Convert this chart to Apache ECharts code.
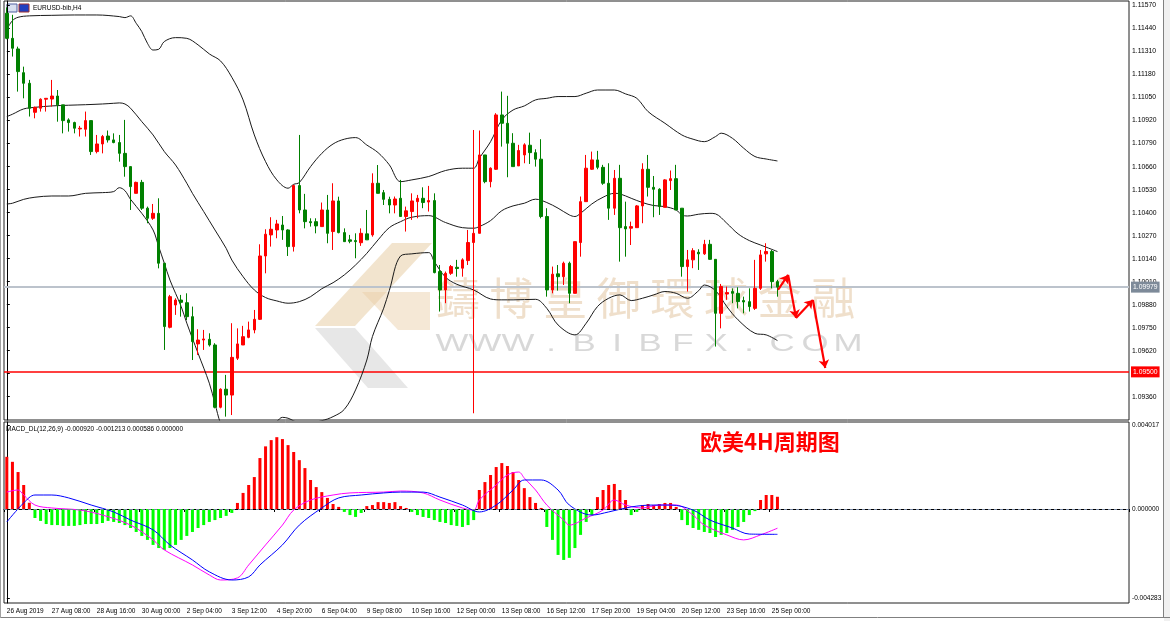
<!DOCTYPE html>
<html><head><meta charset="utf-8">
<script src="https://cdn.jsdelivr.net/npm/echarts@6/dist/echarts.min.js"></script>
<style>html,body{margin:0;padding:0;background:#fff;}#c{width:1170px;height:621px;}</style>
</head><body><div id="c"></div>
<script>
// ---------------- DATA ----------------
const symbolTitle = 'EURUSD-bib,H4';
const macdTitle = 'MACD_DL(12,26,9) -0.000920 -0.001213 0.000586 0.000000';
const noteText = '欧美4H周期图';
const watermarkCN = '鑄博皇御環球金融';
const watermarkEN = 'WWW.BIBFX.COM';
const timeLabels = ['26 Aug 2019','27 Aug 08:00','28 Aug 16:00','30 Aug 00:00','2 Sep 04:00','3 Sep 12:00','4 Sep 20:00','6 Sep 04:00','9 Sep 08:00','10 Sep 16:00','12 Sep 00:00','13 Sep 08:00','16 Sep 12:00','17 Sep 20:00','19 Sep 04:00','20 Sep 12:00','23 Sep 16:00','25 Sep 00:00'];
const priceTicks = [1.11570,1.11440,1.11310,1.11180,1.11050,1.10920,1.10790,1.10660,1.10530,1.10400,1.10270,1.10140,1.10010,1.09880,1.09750,1.09620,1.09490,1.09360];
const macdTicks = [0.004017,0.000000,-0.004283];
const priceMin = 1.09228, priceMax = 1.11596;
const macdMin = -0.004502, macdMax = 0.004167;
const bidPrice = 1.09979;
const supportLevel = 1.09500;

const opens = [1.11527,1.11385,1.11325,1.11191,1.11131,1.10967,1.10990,1.11041,1.11042,1.11059,
1.11009,1.10924,1.10909,1.10873,1.10871,1.10920,1.10745,1.10788,1.10833,1.10811,
1.10796,1.10735,1.10660,1.10509,1.10571,1.10425,1.10368,1.10396,1.10114,1.09752,
1.09878,1.09906,1.09891,1.09812,1.09658,1.09680,1.09684,1.09652,1.09300,1.09402,
1.09369,1.09577,1.09652,1.09695,1.09737,1.09797,1.10155,1.10274,1.10302,1.10330,
1.10302,1.10208,1.10553,1.10415,1.10349,1.10349,1.10321,1.10415,1.10293,1.10466,
1.10287,1.10246,1.10242,1.10230,1.10280,1.10274,1.10566,1.10513,1.10475,1.10443,
1.10481,1.10378,1.10406,1.10462,1.10481,1.10460,1.10468,1.10067,1.09963,1.10057,
1.10091,1.10086,1.10129,1.10231,1.10283,1.10726,1.10575,1.10645,1.10952,1.10905,
1.10792,1.10664,1.10726,1.10781,1.10739,1.10702,1.10378,1.09963,1.10054,1.10038,
1.10114,1.09944,1.10231,1.10462,1.10645,1.10698,1.10656,1.10566,1.10425,1.10594,
1.10321,1.10312,1.10315,1.10438,1.10645,1.10543,1.10532,1.10430,1.10581,1.10592,
1.10425,1.10095,1.10133,1.10176,1.10167,1.10221,1.10136,1.09831,1.09940,1.09954,
1.09944,1.09903,1.09897,1.09859,1.09972,1.10167,1.10180,1.10010];
const closes = [1.11385,1.11329,1.11197,1.11131,1.10990,1.10995,1.11041,1.11046,1.11059,1.11009,
1.10920,1.10909,1.10877,1.10877,1.10920,1.10745,1.10788,1.10830,1.10811,1.10796,
1.10735,1.10660,1.10547,1.10571,1.10425,1.10368,1.10396,1.10114,1.09756,1.09925,
1.09906,1.09893,1.09812,1.09671,1.09680,1.09686,1.09652,1.09300,1.09402,1.09369,
1.09582,1.09658,1.09699,1.09737,1.09797,1.10155,1.10278,1.10306,1.10336,1.10302,
1.10208,1.10553,1.10415,1.10349,1.10343,1.10325,1.10415,1.10283,1.10466,1.10287,
1.10236,1.10238,1.10236,1.10283,1.10246,1.10566,1.10509,1.10475,1.10443,1.10477,
1.10378,1.10410,1.10466,1.10481,1.10457,1.10468,1.10061,1.09963,1.10057,1.10095,
1.10084,1.10133,1.10231,1.10283,1.10726,1.10575,1.10651,1.10952,1.10905,1.10792,
1.10660,1.10751,1.10783,1.10739,1.10702,1.10378,1.09963,1.10052,1.10038,1.10114,
1.09944,1.10236,1.10462,1.10651,1.10698,1.10656,1.10566,1.10425,1.10594,1.10315,
1.10308,1.10321,1.10438,1.10645,1.10543,1.10532,1.10434,1.10585,1.10592,1.10415,
1.10095,1.10133,1.10185,1.10167,1.10221,1.10136,1.09831,1.09982,1.09948,1.09944,
1.09897,1.09895,1.09869,1.09972,1.10161,1.10180,1.10010,1.09979];
const highs = [1.11560,1.11518,1.11338,1.11225,1.11150,1.10999,1.11046,1.11046,1.11150,1.11093,
1.11009,1.10933,1.10914,1.10890,1.10971,1.10920,1.10839,1.10839,1.10864,1.10848,
1.10839,1.10924,1.10660,1.10575,1.10585,1.10434,1.10449,1.10481,1.10114,1.09935,
1.09916,1.09935,1.09944,1.09869,1.09741,1.09737,1.09718,1.09662,1.09407,1.09483,
1.09775,1.09746,1.09760,1.09784,1.09850,1.10221,1.10306,1.10374,1.10359,1.10381,
1.10306,1.10557,1.10839,1.10506,1.10368,1.10368,1.10457,1.10500,1.10566,1.10490,
1.10311,1.10274,1.10283,1.10311,1.10415,1.10622,1.10669,1.10528,1.10490,1.10491,
1.10585,1.10434,1.10509,1.10500,1.10543,1.10551,1.10509,1.10104,1.10067,1.10104,
1.10133,1.10142,1.10302,1.10867,1.10864,1.10726,1.10656,1.10962,1.11084,1.11060,
1.10849,1.10783,1.10792,1.10852,1.10758,1.10815,1.10425,1.10095,1.10104,1.10123,
1.10123,1.10236,1.10491,1.10726,1.10745,1.10749,1.10670,1.10679,1.10641,1.10670,
1.10462,1.10349,1.10443,1.10679,1.10726,1.10607,1.10538,1.10589,1.10638,1.10670,
1.10425,1.10189,1.10199,1.10193,1.10246,1.10246,1.10136,1.09997,1.09982,1.09972,
1.09978,1.09925,1.09972,1.10133,1.10189,1.10227,1.10189,1.10020];
const lows = [1.11380,1.11282,1.11084,1.11046,1.10943,1.10933,1.10971,1.10971,1.10999,1.10914,
1.10848,1.10858,1.10848,1.10830,1.10830,1.10726,1.10735,1.10735,1.10796,1.10792,
1.10688,1.10603,1.10415,1.10509,1.10415,1.10340,1.10359,1.10085,1.09624,1.09746,
1.09822,1.09812,1.09793,1.09567,1.09596,1.09624,1.09643,1.09294,1.09294,1.09247,
1.09256,1.09567,1.09652,1.09690,1.09718,1.09793,1.10057,1.10208,1.10255,1.10246,
1.10155,1.10180,1.10396,1.10311,1.10321,1.10283,1.10321,1.10227,1.10189,1.10283,
1.10236,1.10227,1.10142,1.10212,1.10246,1.10264,1.10509,1.10443,1.10396,1.10396,
1.10378,1.10293,1.10359,1.10368,1.10425,1.10406,1.10057,1.09841,1.09888,1.10048,
1.10038,1.10038,1.10104,1.09266,1.10283,1.10566,1.10543,1.10641,1.10773,1.10600,
1.10660,1.10664,1.10679,1.10675,1.10660,1.10368,1.09925,1.09944,1.09959,1.09991,
1.09888,1.09944,1.10151,1.10462,1.10641,1.10645,1.10557,1.10359,1.10387,1.10123,
1.10151,1.10217,1.10315,1.10340,1.10491,1.10374,1.10387,1.10430,1.10528,1.10415,
1.10038,1.09954,1.10086,1.10076,1.10161,1.10133,1.09643,1.09746,1.09907,1.09888,
1.09859,1.09831,1.09841,1.09850,1.09963,1.10123,1.09972,1.09925];

// Bollinger bands: [bar index, price]
const bbUpper = [[0,1.11436],[1,1.11485],[2,1.11504],[4,1.11512],[8,1.11515],[12,1.11517],[16,1.11517],[20,1.11508],[21,1.11502],[22,1.11512],[23,1.11470],[24,1.11423],[25,1.11357],[26,1.11319],[27,1.11323],[28,1.11367],[30,1.11389],[32,1.11385],[34,1.11348],[36,1.11297],[38,1.11257],[40,1.11165],[42,1.11037],[44,1.10839],[46,1.10688],[48,1.10585],[50,1.10538],[51,1.10560],[52,1.10570],[54,1.10660],[56,1.10735],[58,1.10788],[60,1.10815],[62,1.10824],[64,1.10782],[66,1.10739],[68,1.10670],[70,1.10575],[72,1.10585],[75,1.10604],[78,1.10638],[81,1.10651],[83,1.10651],[84,1.10707],[86,1.10801],[88,1.10924],[90,1.10980],[92,1.11003],[94,1.11037],[96,1.11046],[98,1.11056],[101,1.11056],[103,1.11075],[105,1.11093],[108,1.11093],[110,1.11071],[112,1.11046],[114,1.10971],[117,1.10905],[120,1.10839],[122,1.10815],[124,1.10801],[126,1.10830],[127,1.10849],[129,1.10820],[131,1.10764],[133,1.10717],[135,1.10703],[137,1.10692]];
const bbMiddle = [[0,1.10943],[1,1.10956],[3,1.10986],[5,1.10995],[8,1.11003],[11,1.11007],[14,1.11010],[17,1.11014],[19,1.11018],[20,1.11020],[21,1.11014],[22,1.10990],[24,1.10914],[26,1.10839],[28,1.10745],[30,1.10669],[32,1.10566],[33,1.10509],[35,1.10406],[37,1.10302],[39,1.10198],[40,1.10132],[42,1.10038],[44,1.09963],[46,1.09920],[48,1.09901],[50,1.09888],[52,1.09897],[54,1.09925],[56,1.09970],[58,1.10004],[60,1.10048],[62,1.10104],[64,1.10170],[66,1.10246],[68,1.10315],[70,1.10349],[72,1.10374],[75,1.10383],[78,1.10344],[81,1.10315],[83,1.10312],[84,1.10321],[86,1.10355],[88,1.10411],[90,1.10438],[92,1.10453],[94,1.10476],[96,1.10457],[98,1.10425],[100,1.10387],[101,1.10378],[102,1.10396],[104,1.10449],[106,1.10487],[108,1.10509],[109,1.10506],[111,1.10481],[113,1.10457],[115,1.10440],[117,1.10434],[119,1.10415],[120,1.10387],[121,1.10381],[123,1.10391],[125,1.10396],[126,1.10393],[128,1.10340],[130,1.10280],[132,1.10242],[134,1.10217],[137,1.10180]];
const bbLower = [[0,1.10449],[1,1.10453],[3,1.10475],[5,1.10487],[8,1.10494],[11,1.10494],[14,1.10509],[17,1.10513],[19,1.10519],[20,1.10541],[21,1.10524],[22,1.10475],[24,1.10396],[26,1.10302],[27,1.10208],[28,1.10114],[29,1.10019],[31,1.09869],[32,1.09775],[34,1.09605],[36,1.09436],[37,1.09322],[38,1.09209],[40,1.09077],[42,1.09049],[44,1.09087],[46,1.09153],[48,1.09219],[49,1.09243],[50,1.09238],[52,1.09213],[54,1.09213],[56,1.09224],[58,1.09247],[60,1.09288],[62,1.09398],[64,1.09567],[65,1.09700],[67,1.09860],[68,1.09960],[70,1.10155],[72,1.10167],[75,1.10174],[76,1.10123],[78,1.10035],[80,1.09995],[83,1.09963],[86,1.09912],[88,1.09907],[90,1.09907],[94,1.09910],[96,1.09859],[98,1.09765],[101,1.09709],[103,1.09775],[105,1.09869],[107,1.09916],[109,1.09935],[111,1.09903],[113,1.09916],[115,1.09935],[117,1.09954],[119,1.09944],[121,1.09916],[123,1.09959],[124,1.09991],[126,1.09959],[128,1.09869],[130,1.09794],[133,1.09718],[135,1.09709],[137,1.09677]];

// MACD histogram (one per bar)
const macdHist = [0.00250,0.00226,0.00177,0.00115,0.00030,-0.00043,-0.00057,-0.00072,-0.00077,-0.00077,
-0.00081,-0.00081,-0.00081,-0.00077,-0.00072,-0.00072,-0.00072,-0.00067,-0.00057,-0.00062,
-0.00067,-0.00077,-0.00091,-0.00110,-0.00129,-0.00148,-0.00172,-0.00187,-0.00196,-0.00187,
-0.00172,-0.00148,-0.00129,-0.00110,-0.00091,-0.00077,-0.00062,-0.00053,-0.00043,-0.00033,
-0.00019,0.00029,0.00077,0.00115,0.00153,0.00244,0.00300,0.00330,0.00344,0.00335,
0.00306,0.00273,0.00234,0.00196,0.00139,0.00105,0.00081,0.00053,0.00024,0.00010,
-0.00014,-0.00029,-0.00038,-0.00019,0.00014,0.00019,0.00033,0.00033,0.00029,0.00033,
0.00014,0.00005,-0.00014,-0.00029,-0.00038,-0.00043,-0.00053,-0.00062,-0.00067,-0.00077,
-0.00081,-0.00086,-0.00077,-0.00053,0.00091,0.00129,0.00163,0.00201,0.00220,0.00206,
0.00177,0.00139,0.00100,0.00057,0.00029,0.00005,-0.00086,-0.00148,-0.00220,-0.00244,
-0.00234,-0.00187,-0.00124,-0.00062,-0.00029,0.00057,0.00091,0.00115,0.00120,0.00091,
0.00043,-0.00029,-0.00014,0.00019,0.00024,0.00019,0.00024,0.00029,0.00029,0.00010,
-0.00053,-0.00077,-0.00091,-0.00100,-0.00110,-0.00115,-0.00134,-0.00124,-0.00115,-0.00100,
-0.00086,-0.00062,-0.00029,-0.00010,0.00043,0.00067,0.00067,0.000586];
// MACD main line (magenta) and signal (blue): [bar index, value]
const macdLine = [[0,0.00081],[2,0.00091],[3,0.00067],[5,0.00019],[8,0.00005],[13,-0.00005],[17,-0.00029],[22,-0.00077],[26,-0.00148],[28,-0.00196],[33,-0.00268],[36,-0.00316],[38,-0.00340],[41,-0.00330],[43,-0.00268],[46,-0.00172],[49,-0.00077],[51,-0.00005],[54,0.00043],[58,0.00067],[61,0.00077],[67,0.00081],[70,0.00086],[74,0.00077],[77,0.00043],[81,0.00005],[83,-0.00005],[84,0.00043],[87,0.00115],[89,0.00163],[91,0.00177],[92,0.00148],[94,0.00091],[96,0.00019],[99,-0.00053],[100,-0.00077],[103,-0.00043],[106,-0.00005],[108,0.00043],[110,0.00019],[113,0.00005],[116,0.00019],[119,0.00019],[122,-0.00029],[124,-0.00077],[128,-0.00124],[131,-0.00148],[134,-0.00124],[137,-0.00092]];
const signalLine = [[0,-0.00062],[3,0.00029],[5,0.00067],[8,0.00067],[11,0.00053],[15,0.00019],[19,-0.00014],[22,-0.00053],[26,-0.00100],[29,-0.00172],[33,-0.00244],[36,-0.00301],[40,-0.00340],[43,-0.00325],[45,-0.00268],[49,-0.00172],[52,-0.00077],[56,0.00005],[59,0.00053],[63,0.00067],[67,0.00077],[70,0.00081],[74,0.00081],[77,0.00057],[81,0.00019],[84,-0.00014],[87,0.00019],[90,0.00091],[92,0.00139],[95,0.00139],[98,0.00091],[100,0.00019],[104,-0.00029],[107,-0.00014],[111,0.00010],[115,0.00019],[118,0.00019],[122,-0.00005],[125,-0.00053],[129,-0.00091],[132,-0.00120],[137,-0.001213]];
// hand-drawn forecast arrow vertices: [bar position, price]
const arrowPath = [[137.1,1.09963],[138.9,1.10048],[140.3,1.09805],[143.3,1.09906],[145.5,1.09522]];

// ---------------- CHART ----------------
const N_SLOTS = 200;
const slots = Array.from({length: N_SLOTS}, (_, i) => String(i));
const candleData = opens.map((o, i) => [o, closes[i], lows[i], highs[i]]);
const isLabelSlot = (i) => i % 8 === 0 && i / 8 < timeLabels.length;
const FONT = 'Liberation Sans';

const chart = echarts.init(document.getElementById('c'), null, {renderer: 'canvas'});

const wmCN = watermarkCN.split('').map((ch, k) => ({
  type: 'text', x: 458 + k * 53.6, y: 298, z: -5,
  style: {text: ch, font: '44px "Noto Sans CJK TC"', fill: 'rgba(226,196,160,0.55)', align: 'center', verticalAlign: 'middle'}
}));
const wmEN = watermarkEN.split('').map((ch, k) => ({
  type: 'text', x: 452 + k * 33, y: 344, z: -5, scaleX: 1.45,
  style: {text: ch, font: '24px "Liberation Sans"', fill: 'rgba(200,200,200,0.7)', align: 'center', verticalAlign: 'middle'}
}));

const option = {
  animation: false,
  backgroundColor: '#ffffff',
  grid: [
    {left: 4, top: 1, width: 1125, height: 419, show: true, borderColor: '#202020', borderWidth: 1},
    {left: 4, top: 422, width: 1125, height: 181, show: true, borderColor: '#202020', borderWidth: 1}
  ],
  xAxis: [
    {type: 'category', gridIndex: 0, data: slots, boundaryGap: true, axisLine: {show: false}, axisTick: {show: false}, axisLabel: {show: false}},
    {type: 'category', gridIndex: 1, data: slots, boundaryGap: true,
      axisLine: {show: true, lineStyle: {color: '#000', width: 1}},
      axisTick: {show: true, interval: (i) => isLabelSlot(i), length: 3, lineStyle: {color: '#000'}},
      axisLabel: {interval: (i) => isLabelSlot(i), formatter: (v) => timeLabels[Number(v) / 8] || '', align: 'left', fontSize: 6.5, fontFamily: FONT, color: '#000', margin: 5}},
    {type: 'value', gridIndex: 0, min: -0.5, max: N_SLOTS - 0.5, show: false},
    {type: 'value', gridIndex: 1, min: -0.5, max: N_SLOTS - 0.5, show: false}
  ],
  yAxis: [
    {type: 'value', gridIndex: 0, position: 'right', min: priceMin, max: priceMax, splitLine: {show: false},
      axisLine: {show: true, lineStyle: {color: '#000'}},
      axisTick: {show: true, customValues: priceTicks, length: 3, lineStyle: {color: '#000'}},
      axisLabel: {customValues: priceTicks, formatter: (v) => v.toFixed(5), fontSize: 6.8, fontFamily: FONT, color: '#000', margin: 3}},
    {type: 'value', gridIndex: 1, position: 'right', min: macdMin, max: macdMax, splitLine: {show: false},
      axisLine: {show: true, lineStyle: {color: '#000'}},
      axisTick: {show: true, customValues: macdTicks, length: 3, lineStyle: {color: '#000'}},
      axisLabel: {customValues: macdTicks, formatter: (v) => v.toFixed(6), fontSize: 6.5, fontFamily: FONT, color: '#000', margin: 3}}
  ],
  series: [
    {type: 'candlestick', xAxisIndex: 0, yAxisIndex: 0, data: candleData, barWidth: 3, z: 3,
      itemStyle: {color: '#ff0000', color0: '#008000', borderColor: '#ff0000', borderColor0: '#008000', borderWidth: 1},
      markLine: {silent: true, symbol: 'none', z: 2, animation: false, precision: 5,
        data: [
          {yAxis: bidPrice, lineStyle: {color: '#bcc3cc', width: 2, type: 'solid'},
            label: {position: 'end', formatter: () => bidPrice.toFixed(5), color: '#fff', backgroundColor: '#7d8a99', padding: [2, 2], fontSize: 6.8, fontFamily: FONT, distance: 2}},
          {yAxis: supportLevel, lineStyle: {color: '#ff0000', width: 1.5, type: 'solid'},
            label: {position: 'end', formatter: () => supportLevel.toFixed(5), color: '#fff', backgroundColor: '#ff0000', padding: [2, 2], fontSize: 6.8, fontFamily: FONT, distance: 2}}
        ]}},
    {type: 'line', name: 'bbUpper', xAxisIndex: 2, yAxisIndex: 0, data: bbUpper, showSymbol: false, smooth: 0.35, lineStyle: {color: '#1a1a1a', width: 1}, z: 2},
    {type: 'line', name: 'bbMiddle', xAxisIndex: 2, yAxisIndex: 0, data: bbMiddle, showSymbol: false, smooth: 0.35, lineStyle: {color: '#1a1a1a', width: 1}, z: 2},
    {type: 'line', name: 'bbLower', xAxisIndex: 2, yAxisIndex: 0, data: bbLower, showSymbol: false, smooth: 0.35, lineStyle: {color: '#1a1a1a', width: 1}, z: 2},
    {type: 'lines', coordinateSystem: 'cartesian2d', xAxisIndex: 2, yAxisIndex: 0, z: 5,
      data: arrowPath.slice(1).map((p, k) => ({coords: [arrowPath[k], p]})),
      symbol: ['none', 'arrow'], symbolSize: 8, lineStyle: {color: '#ff0000', width: 2.2, opacity: 1}},
    {type: 'bar', xAxisIndex: 1, yAxisIndex: 1, data: macdHist, barWidth: 3,
      itemStyle: {color: (p) => p.value >= 0 ? '#ff0000' : '#00ff00'},
      markLine: {silent: true, symbol: 'none', precision: 6, data: [{yAxis: 0}], label: {show: false}, lineStyle: {color: '#7585a0', width: 1, type: [3, 3]}}},
    {type: 'line', name: 'macd', xAxisIndex: 3, yAxisIndex: 1, data: macdLine, showSymbol: false, smooth: 0.35, lineStyle: {color: '#ff00ff', width: 1}, z: 4},
    {type: 'line', name: 'signal', xAxisIndex: 3, yAxisIndex: 1, data: signalLine, showSymbol: false, smooth: 0.35, lineStyle: {color: '#0000ff', width: 1}, z: 4}
  ],
  graphic: [
    // watermark logo
    {type: 'polygon', z: -6, shape: {points: [[392, 243], [432, 243], [355, 326], [315, 326]]}, style: {fill: 'rgba(232,205,165,0.55)'}},
    {type: 'polygon', z: -6, shape: {points: [[315, 328], [355, 328], [408, 388], [368, 388]]}, style: {fill: 'rgba(215,215,215,0.6)'}},
    {type: 'polygon', z: -6, shape: {points: [[362, 292], [430, 292], [430, 330], [398, 330]]}, style: {fill: 'rgba(232,205,165,0.45)'}},
    ...wmCN, ...wmEN,
    // header icons + title
    {type: 'rect', shape: {x: 7, y: 4, width: 10, height: 8}, style: {fill: '#d8e0f0', stroke: '#5060a0', lineWidth: 1}},
    {type: 'rect', shape: {x: 19, y: 4, width: 10, height: 8}, style: {fill: '#2040c0', stroke: '#a03030', lineWidth: 1}},
    {type: 'text', x: 33, y: 5, style: {text: symbolTitle, font: '6.5px "Liberation Sans"', fill: '#000'}},
    {type: 'text', x: 6, y: 426, style: {text: macdTitle, font: '6.5px "Liberation Sans"', fill: '#000'}},
    {type: 'text', x: 700, y: 431, style: {text: noteText, font: 'bold 22px "Noto Sans CJK SC"', fill: '#ff0000', textShadowColor: 'rgba(40,60,150,0.7)', textShadowOffsetX: 1, textShadowOffsetY: 1}},
    // frame
    {type: 'line', shape: {x1: 1163.5, y1: 0, x2: 1163.5, y2: 618}, style: {stroke: '#808080', lineWidth: 1}},
    {type: 'rect', shape: {x: 1164, y: 0, width: 6, height: 621}, style: {fill: '#f0f0f0'}},
    {type: 'line', shape: {x1: 0, y1: 617.5, x2: 1170, y2: 617.5}, style: {stroke: '#808080', lineWidth: 1}},
    {type: 'line', shape: {x1: 0.5, y1: 0, x2: 0.5, y2: 618}, style: {stroke: '#a0a0a0', lineWidth: 1}}
  ]
};
chart.setOption(option);
</script></body></html>
